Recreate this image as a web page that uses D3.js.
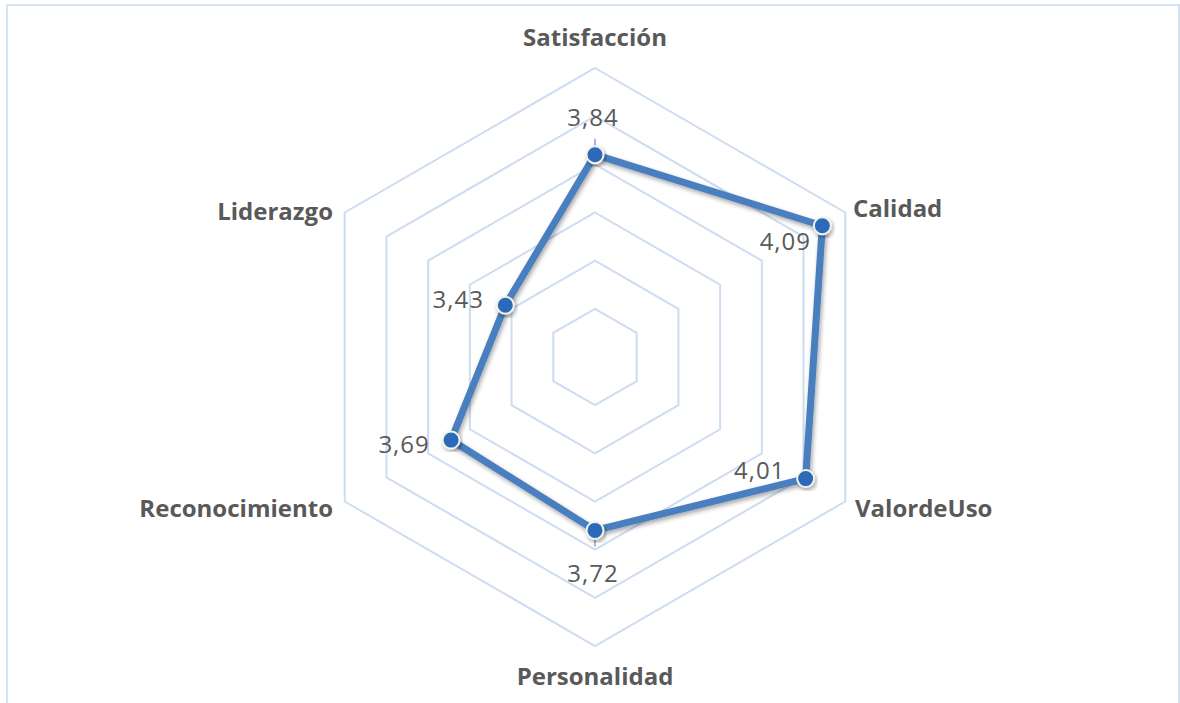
<!DOCTYPE html>
<html>
<head>
<meta charset="utf-8">
<script src="https://cdn.jsdelivr.net/npm/d3@7"></script>
<style>
  html, body { margin: 0; padding: 0; background: #fff; }
  svg { display: block; }
</style>
</head>
<body>
<svg id="chart" width="1180" height="703"></svg>
<script>
// chart data
const axes = ["Satisfacción", "Calidad", "ValordeUso", "Personalidad", "Reconocimiento", "Liderazgo"];
const values = [3.84, 4.09, 4.01, 3.72, 3.69, 3.43];
const valueLabels = ["3,84", "4,09", "4,01", "3,72", "3,69", "3,43"];
const gridTicks = [3.2, 3.4, 3.6, 3.8, 4.0, 4.2];

const width = 1180, height = 703;
const cx = 595, cy = 357, R = 289;

const svg = d3.select("#chart");

// outer frame of the chart area
svg.append("rect")
  .attr("x", 7).attr("y", 5)
  .attr("width", 1172).attr("height", 720)
  .attr("fill", "none")
  .attr("stroke", "#d6e3f3")
  .attr("stroke-width", 2);

const defs = svg.append("defs");
const shadow = defs.append("filter").attr("id", "shadow")
  .attr("x", "-20%").attr("y", "-20%").attr("width", "140%").attr("height", "140%");
shadow.append("feDropShadow")
  .attr("dx", 1.5).attr("dy", 2.5).attr("stdDeviation", 2)
  .attr("flood-color", "#000").attr("flood-opacity", 0.35);

const rScale = d3.scaleLinear().domain([3.0, 4.2]).range([0, R]);
const angle = d3.scalePoint().domain(axes).range([0, 2 * Math.PI * (axes.length - 1) / axes.length]);

function pt(axis, v) {
  const a = angle(axis), r = rScale(v);
  return [cx + r * Math.sin(a), cy - r * Math.cos(a)];
}

// hexagon gridlines
const grid = svg.append("g");
gridTicks.forEach(t => {
  grid.append("path")
    .attr("d", d3.line()(axes.map(a => pt(a, t))) + "Z")
    .attr("fill", "none")
    .attr("stroke", "#cddcf0")
    .attr("stroke-width", 2);
});

// category labels
const labelPos = {
  "Satisfacción":   { dx: 0,    dy: -321, anchor: "middle" },
  "Calidad":        { dx: 258,  dy: -150, anchor: "start" },
  "ValordeUso":     { dx: 260,  dy: 150,  anchor: "start" },
  "Personalidad":   { dx: 0,    dy: 318,  anchor: "middle" },
  "Reconocimiento": { dx: -262, dy: 150,  anchor: "end" },
  "Liderazgo":      { dx: -262, dy: -147, anchor: "end" }
};
svg.append("g").selectAll("text")
  .data(axes)
  .join("text")
    .attr("x", d => cx + labelPos[d].dx)
    .attr("y", d => cy + labelPos[d].dy)
    .attr("text-anchor", d => labelPos[d].anchor)
    .attr("dominant-baseline", "central")
    .attr("font-family", "'Open Sans', sans-serif")
    .attr("font-weight", "bold")
    .attr("font-size", 24)
    .attr("fill", "#595959")
    .text(d => d);

const series = axes.map((a, i) => ({ axis: a, value: values[i], label: valueLabels[i] }));

// small leader ticks under/over top and bottom labels
[["Satisfacción", -1], ["Personalidad", 1]].forEach(([a, s]) => {
  const p = pt(a, values[axes.indexOf(a)]);
  svg.append("line")
    .attr("x1", p[0]).attr("x2", p[0])
    .attr("y1", p[1] + s * 2).attr("y2", p[1] + s * 16)
    .attr("stroke", "#9dbbe3").attr("stroke-width", 2);
});

// series line
svg.append("path")
  .datum(series)
  .attr("d", d => d3.line()(d.map(s => pt(s.axis, s.value))) + "Z")
  .attr("fill", "none")
  .attr("stroke", "#4a7ebf")
  .attr("stroke-width", 7)
  .attr("stroke-linejoin", "round")
  .attr("filter", "url(#shadow)");

// markers
svg.append("g").selectAll("circle")
  .data(series)
  .join("circle")
    .attr("cx", d => pt(d.axis, d.value)[0])
    .attr("cy", d => pt(d.axis, d.value)[1])
    .attr("r", 8.5)
    .attr("fill", "#2c6ab8")
    .attr("stroke", "#f2f2ec")
    .attr("stroke-width", 2)
    .attr("filter", "url(#shadow)");

// value labels (centre offsets from the marker)
const valPos = {
  "Satisfacción":   { dx: -2,  dy: -38 },
  "Calidad":        { dx: -37, dy: 15 },
  "ValordeUso":     { dx: -46, dy: -9 },
  "Personalidad":   { dx: -2,  dy: 42 },
  "Reconocimiento": { dx: -47, dy: 3 },
  "Liderazgo":      { dx: -47, dy: -7 }
};
svg.append("g").selectAll("text")
  .data(series)
  .join("text")
    .attr("x", d => pt(d.axis, d.value)[0] + valPos[d.axis].dx)
    .attr("y", d => pt(d.axis, d.value)[1] + valPos[d.axis].dy)
    .attr("text-anchor", "middle")
    .attr("dominant-baseline", "central")
    .attr("font-family", "'Open Sans', sans-serif")
    .attr("font-size", 24)
    .attr("letter-spacing", 1)
    .attr("fill", "#595959")
    .text(d => d.label);
</script>
</body>
</html>
